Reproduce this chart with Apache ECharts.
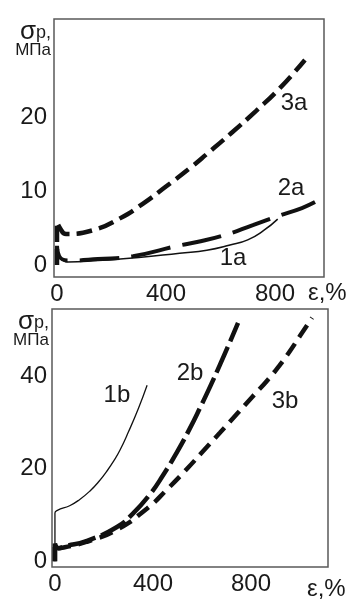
<!DOCTYPE html>
<html>
<head>
  <meta charset="utf-8">
  <title>σp – ε</title>
  <script src="https://cdn.jsdelivr.net/npm/echarts@6/dist/echarts.min.js"></script>
  <style>
    html, body { margin: 0; padding: 0; background: #fff; }
  </style>
</head>
<body>
  <div id="main" style="width:355px;height:601px;"></div>
  <script type="text/javascript">
    // tick labels
    var xTicks = [0, 400, 800];
    var yTicksTop = [0, 10, 20];
    var yTicksBottom = [0, 20, 40];

    // top panel (a): strain, %  /  stress, MPa
    var x1a = [0, 0, 5, 15, 40, 150, 300, 450, 550, 635, 700, 760, 810];
    var y1a = [0, 0.6, 1.1, 0.8, 0.4, 0.6, 1.0, 1.6, 2.0, 2.7, 3.4, 4.7, 6.2];
    var x2a = [0, 0, 8, 40, 150, 279, 444, 514, 620, 719, 810, 899, 947];
    var y2a = [0, 2.6, 1.2, 0.6, 0.8, 1.2, 2.6, 3.1, 4.1, 5.4, 6.6, 7.7, 8.5];
    var x3a = [0, 0, 11, 33, 132, 231, 316, 400, 488, 550, 639, 730, 818, 910];
    var y3a = [0, 5.8, 5.0, 4.2, 4.7, 6.3, 8.3, 10.6, 13.1, 15.0, 17.8, 20.8, 23.9, 27.7];

    // bottom panel (b)
    var x1b = [0, 0, 10, 60, 100, 143, 180, 212, 240, 265, 300, 340, 376];
    var y1b = [0, 10.4, 11.0, 12.0, 13.3, 15.2, 17.3, 19.5, 21.7, 24.0, 28.0, 33.0, 38.1];
    var x2b = [0, 0, 15, 40, 131, 253, 318, 388, 441, 498, 551, 592, 633, 673, 706, 747];
    var y2b = [0, 3.8, 2.8, 3.2, 4.4, 7.4, 10.3, 14.5, 18.6, 23.6, 28.8, 33.2, 37.8, 42.5, 46.5, 51.6];
    var x3b = [0, 0, 15, 40, 131, 253, 376, 457, 539, 604, 673, 743, 804, 869, 918, 959, 1000, 1049];
    var y3b = [0, 3.8, 2.8, 3.0, 4.2, 6.8, 11.4, 15.5, 20.0, 23.8, 27.8, 31.9, 35.5, 39.3, 42.5, 45.5, 48.8, 52.7];

    function pairs(xs, ys) {
      return xs.map(function (x, i) { return [x, ys[i]]; });
    }

    var ink = '#111';
    var font = 'Liberation Sans';

    function curve(name, xs, ys, grid, width, dash, labelAt) {
      return {
        name: name,
        type: 'line',
        xAxisIndex: grid,
        yAxisIndex: grid,
        data: pairs(xs, ys),
        smooth: 0.5,
        showSymbol: false,
        silent: true,
        lineStyle: { color: ink, width: width, type: dash, cap: 'butt' },
        markPoint: {
          silent: true,
          symbol: 'circle',
          symbolSize: 1,
          itemStyle: { color: 'rgba(0,0,0,0)' },
          label: {
            show: true, position: 'inside', formatter: '{b}',
            color: '#1a1a1a', fontSize: 24, fontFamily: font
          },
          data: [{ name: name, coord: labelAt }]
        }
      };
    }

    function xAxis(grid, min, max, gap) {
      return {
        type: 'value', gridIndex: grid, min: min, max: max,
        axisLine: { show: false }, axisTick: { show: false }, splitLine: { show: false },
        axisLabel: {
          customValues: xTicks, margin: 5,
          color: '#1a1a1a', fontSize: 24, fontFamily: font
        },
        name: 'ε,%', nameLocation: 'end', nameGap: gap,
        nameTextStyle: {
          color: '#1a1a1a', fontSize: 24, fontFamily: font,
          align: 'left', verticalAlign: 'top', padding: [16, 0, 0, 0]
        }
      };
    }

    function yAxis(grid, min, max, ticks, margin) {
      return {
        type: 'value', gridIndex: grid, min: min, max: max,
        axisLine: { show: false }, axisTick: { show: false }, splitLine: { show: false },
        axisLabel: {
          customValues: ticks, margin: margin,
          color: '#1a1a1a', fontSize: 24, fontFamily: font
        },
        name: '{s|σ}{p|p,}\n{u|МПа}', nameLocation: 'end', nameGap: -3,
        nameTextStyle: {
          align: 'right', verticalAlign: 'top', padding: [0, 6, 0, 0],
          rich: {
            s: { fontSize: 26, fontFamily: font, color: '#1a1a1a', lineHeight: 20 },
            p: { fontSize: 18, fontFamily: font, color: '#1a1a1a', lineHeight: 20, verticalAlign: 'bottom' },
            u: { fontSize: 17, fontFamily: font, color: '#1a1a1a', lineHeight: 17 }
          }
        }
      };
    }

    var myChart = echarts.init(document.getElementById('main'), null, { renderer: 'canvas' });

    var option = {
      animation: false,
      backgroundColor: '#fff',
      grid: [
        { left: 54, top: 19, width: 270, height: 258, show: true, borderColor: '#5a5a5a', borderWidth: 1.5, backgroundColor: 'transparent' },
        { left: 52, top: 309, width: 276, height: 264, show: true, borderColor: '#5a5a5a', borderWidth: 1.5, backgroundColor: 'transparent' }
      ],
      xAxis: [
        xAxis(0, -11, 980, -16),
        xAxis(1, -12, 1114, -21)
      ],
      yAxis: [
        yAxis(0, -1.62, 33.24, yTicksTop, 7),
        yAxis(1, -1.27, 54.6, yTicksBottom, 5)
      ],
      series: [
        curve('1a', x1a, y1a, 0, 1.5, 'solid', [646, 0.95]),
        curve('2a', x2a, y2a, 0, 4, [40, 12], [859, 10.4]),
        curve('3a', x3a, y3a, 0, 4.5, [16, 7], [870, 21.8]),
        curve('1b', x1b, y1b, 1, 1.3, 'solid', [253, 36]),
        curve('2b', x2b, y2b, 1, 4.5, [28, 6], [551, 40.6]),
        curve('3b', x3b, y3b, 1, 4.5, [14, 8], [939, 34.7])
      ]
    };

    myChart.setOption(option);
  </script>
</body>
</html>
